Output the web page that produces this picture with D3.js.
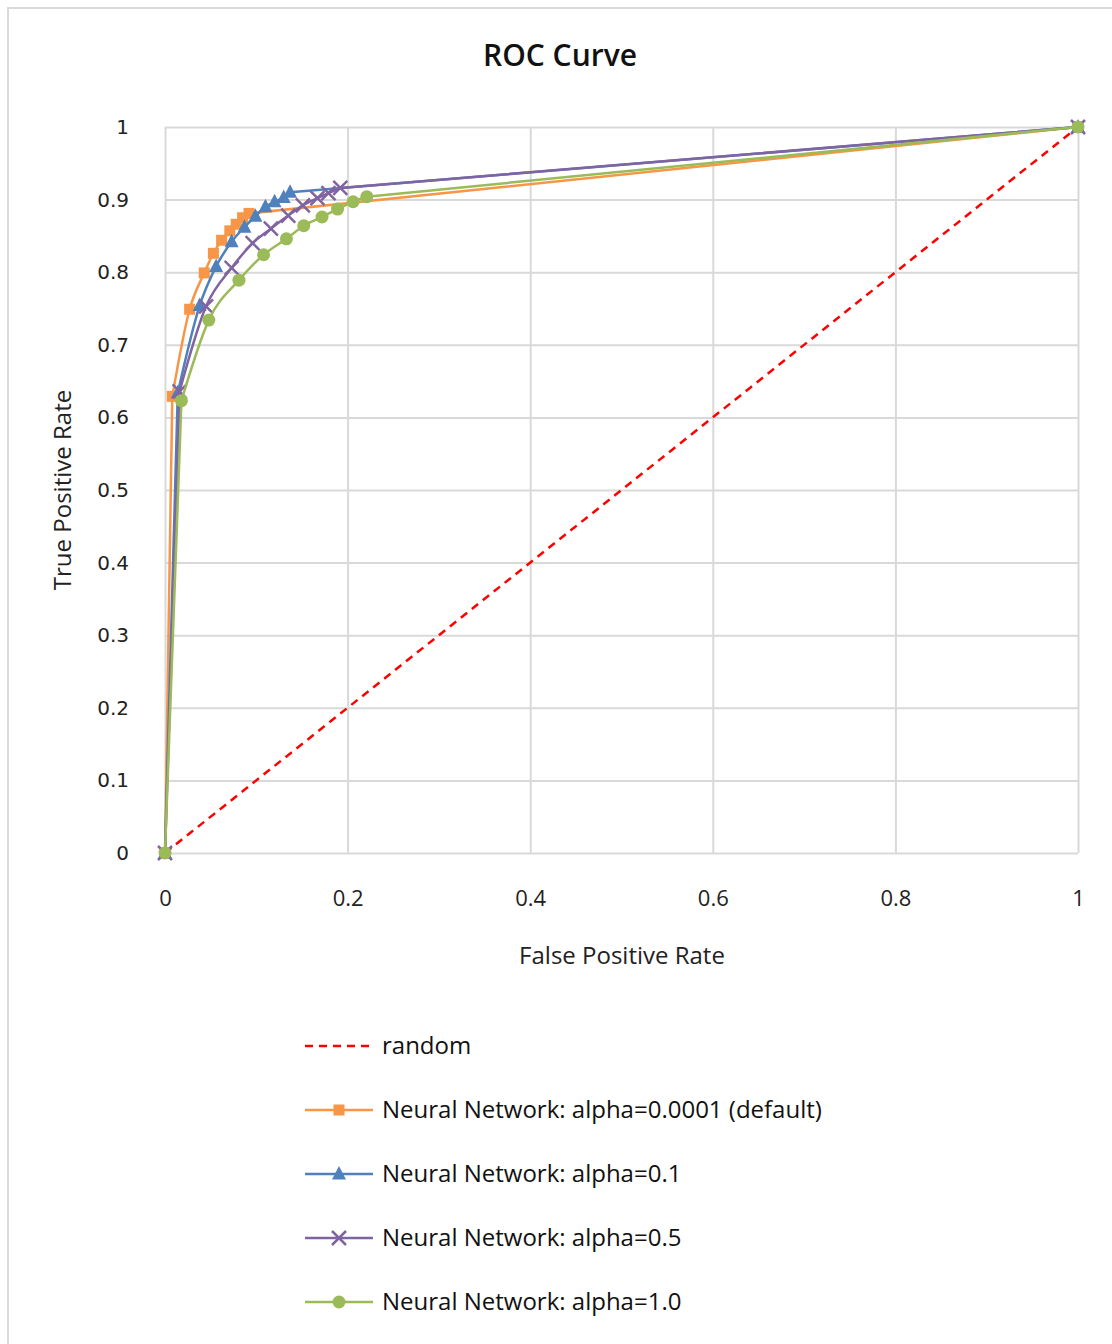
<!DOCTYPE html>
<html><head><meta charset="utf-8">
<script src="https://cdn.jsdelivr.net/npm/d3@7"></script>
<style>body{margin:0;background:#fff}svg{display:block}</style>
</head><body><svg id="c" width="1112" height="1344"></svg>
<script>
// ---- data ----
const xTicks = [0, 0.2, 0.4, 0.6, 0.8, 1];
const yTicks = [0, 0.1, 0.2, 0.3, 0.4, 0.5, 0.6, 0.7, 0.8, 0.9, 1];
const randomFPR = [0, 1];
const randomTPR = [0, 1];
const nn0001FPR = [0, 0.008, 0.027, 0.043, 0.053, 0.062, 0.071, 0.078, 0.085, 0.092, 1];
const nn0001TPR = [0, 0.629, 0.749, 0.799, 0.826, 0.844, 0.857, 0.866, 0.875, 0.881, 1];
const nn01FPR = [0, 0.014, 0.038, 0.056, 0.073, 0.087, 0.099, 0.110, 0.120, 0.130, 0.137, 1];
const nn01TPR = [0, 0.634, 0.754, 0.808, 0.842, 0.862, 0.877, 0.890, 0.897, 0.903, 0.910, 1];
const nn05FPR = [0, 0.016, 0.045, 0.073, 0.096, 0.116, 0.135, 0.151, 0.167, 0.179, 0.192, 1];
const nn05TPR = [0, 0.636, 0.753, 0.806, 0.840, 0.860, 0.878, 0.892, 0.902, 0.909, 0.916, 1];
const nn10FPR = [0, 0.018, 0.048, 0.081, 0.108, 0.133, 0.152, 0.172, 0.189, 0.206, 0.221, 1];
const nn10TPR = [0, 0.623, 0.734, 0.789, 0.824, 0.846, 0.864, 0.876, 0.887, 0.897, 0.904, 1];
const seriesNames = ["random", "Neural Network: alpha=0.0001 (default)", "Neural Network: alpha=0.1", "Neural Network: alpha=0.5", "Neural Network: alpha=1.0"];

const series = [
  {name: seriesNames[0], fpr: randomFPR, tpr: randomTPR, color: "#ff0000", marker: null, dash: "8,6"},
  {name: seriesNames[1], fpr: nn0001FPR, tpr: nn0001TPR, color: "#f79646", marker: "square"},
  {name: seriesNames[2], fpr: nn01FPR, tpr: nn01TPR, color: "#4f81bd", marker: "triangle"},
  {name: seriesNames[3], fpr: nn05FPR, tpr: nn05TPR, color: "#8064a2", marker: "x"},
  {name: seriesNames[4], fpr: nn10FPR, tpr: nn10TPR, color: "#9bbb59", marker: "circle"}
];

const svg = d3.select("#c");
const font = "'Open Sans', 'Noto Sans', sans-serif";
// outer border
svg.append("rect").attr("x", 8).attr("y", 8).attr("width", 1120).attr("height", 1350)
  .attr("fill", "#fff").attr("stroke", "#d9d9d9").attr("stroke-width", 2);

const x = d3.scaleLinear().domain([0, 1]).range([165, 1078]);
const y = d3.scaleLinear().domain([0, 1]).range([853, 127]);

// gridlines
const gx = svg.append("g").attr("transform", "translate(0,853)")
  .call(d3.axisBottom(x).tickValues(xTicks).tickSize(-(853 - 127)).tickFormat(""));
gx.select(".domain").remove();
gx.selectAll("line").attr("stroke", "#d9d9d9").attr("stroke-width", 2);
const gy = svg.append("g").attr("transform", "translate(165,0)")
  .call(d3.axisLeft(y).tickValues(yTicks).tickSize(-(1078 - 165)).tickFormat(""));
gy.select(".domain").remove();
gy.selectAll("line").attr("stroke", "#d9d9d9").attr("stroke-width", 2);

// tick labels
const ax = svg.append("g").attr("transform", "translate(0,853)")
  .call(d3.axisBottom(x).tickValues(xTicks).tickSize(0).tickPadding(37).tickFormat(d3.format("")));
ax.select(".domain").remove();
ax.selectAll("text").attr("font-family", font).attr("font-size", 22).attr("fill", "#222");
const ay = svg.append("g").attr("transform", "translate(165,0)")
  .call(d3.axisLeft(y).tickValues(yTicks).tickSize(0).tickPadding(36).tickFormat(d3.format("")));
ay.select(".domain").remove();
ay.selectAll("text").attr("font-family", "'DejaVu Sans', sans-serif").attr("font-size", 20).attr("fill", "#222");

// title & axis titles
svg.append("text").attr("x", 560).attr("y", 66).attr("text-anchor", "middle")
  .attr("font-family", font).attr("font-size", 30).attr("font-weight", 600).attr("fill", "#111").text("ROC Curve");
svg.append("text").attr("x", 622).attr("y", 964).attr("text-anchor", "middle")
  .attr("font-family", font).attr("font-size", 24).attr("fill", "#222").text("False Positive Rate");
svg.append("text").attr("transform", "translate(71,490) rotate(-90)").attr("text-anchor", "middle")
  .attr("font-family", font).attr("font-size", 24).attr("fill", "#222").text("True Positive Rate");

function drawMarker(g, type, cx, cy, color) {
  if (type === "square") {
    g.append("rect").attr("x", cx - 5.5).attr("y", cy - 5.5).attr("width", 11).attr("height", 11).attr("fill", color);
  } else if (type === "triangle") {
    g.append("path").attr("d", `M${cx},${cy - 8}L${cx + 7},${cy + 5.5}L${cx - 7},${cy + 5.5}Z`).attr("fill", color);
  } else if (type === "x") {
    g.append("path").attr("d", `M${cx - 7},${cy - 7}L${cx + 7},${cy + 7}M${cx + 7},${cy - 7}L${cx - 7},${cy + 7}`)
      .attr("stroke", color).attr("stroke-width", 2.5).attr("fill", "none");
  } else if (type === "circle") {
    g.append("circle").attr("cx", cx).attr("cy", cy).attr("r", 6.5).attr("fill", color);
  }
}

const lin = d3.line().x(d => x(d[0])).y(d => y(d[1])).curve(d3.curveLinear);
const smooth = d3.line().x(d => x(d[0])).y(d => y(d[1])).curve(d3.curveMonotoneX);
const plot = svg.append("g");
series.forEach(s => {
  const pts = s.fpr.map((f, i) => [f, s.tpr[i]]);
  const g = plot.append("g");
  const style = p => p.attr("fill", "none").attr("stroke", s.color).attr("stroke-width", 2.5)
    .attr("stroke-linecap", s.dash ? "butt" : "round").attr("stroke-dasharray", s.dash || null);
  if (!s.marker) {
    g.append("path").attr("d", lin(pts)).call(style);
  } else {
    const n = pts.length;
    g.append("path").attr("d", lin(pts.slice(0, 2))).call(style);
    g.append("path").attr("d", smooth(pts.slice(1, n - 1))).call(style);
    g.append("path").attr("d", lin(pts.slice(n - 2))).call(style);
    pts.forEach(p => drawMarker(g, s.marker, x(p[0]), y(p[1]), s.color));
  }
});

// legend
const leg = svg.append("g");
series.forEach((s, i) => {
  const ly = 1046 + i * 64;
  leg.append("line").attr("x1", 305).attr("x2", 373).attr("y1", ly).attr("y2", ly)
    .attr("stroke", s.color).attr("stroke-width", 2.5).attr("stroke-dasharray", s.dash || null);
  if (s.marker) drawMarker(leg, s.marker, 339, ly, s.color);
  leg.append("text").attr("x", 382).attr("y", ly + 8).attr("font-family", font).attr("font-size", 24)
    .attr("fill", "#111").text(s.name);
});
</script></body></html>
